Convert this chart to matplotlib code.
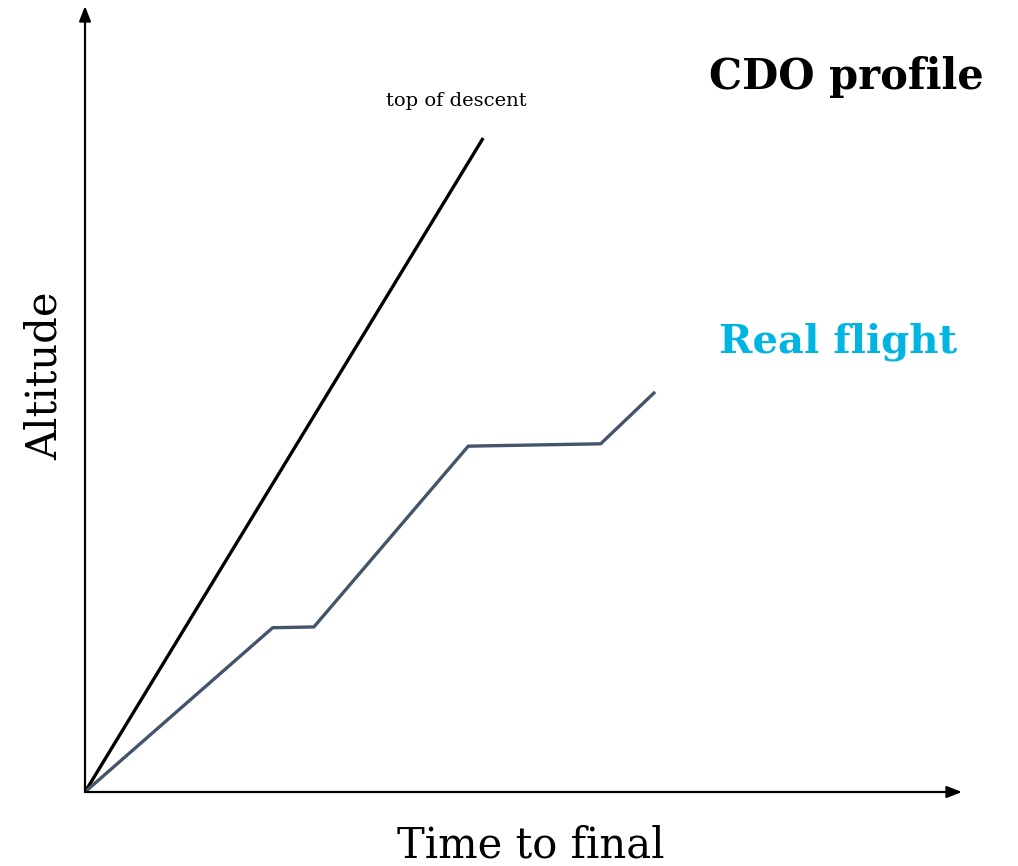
import matplotlib
matplotlib.use("Agg")
import matplotlib.pyplot as plt

# profile vertices (time to final, altitude) in arbitrary units
cdo_time = [0, 45.4]
cdo_alt = [0, 83.2]

real_time = [0, 21.4, 26.1, 43.7, 58.8, 65.0]
real_alt = [0, 20.9, 21.0, 44.0, 44.3, 50.9]

W, H = 1018, 866
fig = plt.figure(figsize=(W / 100, H / 100), dpi=100)
plt.rcParams["font.family"] = ["DejaVu Serif"]

# axes box: origin at (85, 792) px, arrow tips at x=962, y=6
ax = fig.add_axes([85 / W, (H - 792) / H, (962 - 85) / W, (792 - 6) / H])
ax.set_xlim(0, 100)
ax.set_ylim(0, 100)
ax.axis("off")

ax.plot(cdo_time, cdo_alt, color="black", lw=2.4, solid_capstyle="butt")
ax.plot(real_time, real_alt, color="#44546A", lw=2.4, solid_capstyle="butt")

arrow = dict(arrowstyle="-|>,head_length=0.9,head_width=0.35", color="black", lw=1.6,
             shrinkA=0, shrinkB=0)
ax.annotate("", xy=(1, 0), xytext=(0, 0), xycoords="axes fraction", arrowprops=arrow)
ax.annotate("", xy=(0, 1), xytext=(0, 0), xycoords="axes fraction", arrowprops=arrow)


def px(x, y):
    return x / W, 1 - y / H


fig.text(*px(456, 101), "top of descent", fontsize=14, ha="center", va="center")
fig.text(*px(846, 77), "CDO profile", fontsize=30, fontweight="bold", ha="center", va="center")
fig.text(*px(838, 342), "Real flight", fontsize=29, fontweight="bold", color="#00B5E2",
         ha="center", va="center")
fig.text(*px(531, 845), "Time to final", fontsize=30, ha="center", va="center")
fig.text(*px(45, 376), "Altitude", fontsize=30, rotation=90, ha="center", va="center")

fig.savefig("out.png", dpi=100)
